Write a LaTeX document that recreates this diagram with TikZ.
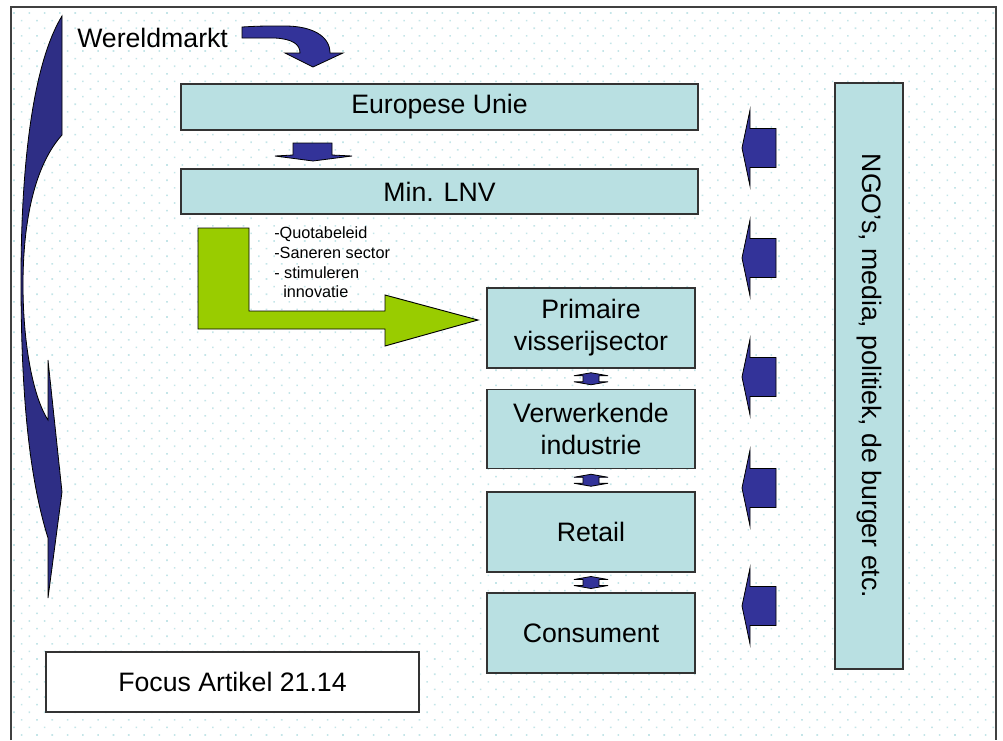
\documentclass[tikz,border=0pt]{standalone}
\usepackage{fontspec}
\setmainfont{Liberation Sans}
\usetikzlibrary{calc}
\definecolor{boxcyan}{HTML}{B9E0E2}
\definecolor{arrowblue}{HTML}{333399}
\definecolor{crescentblue}{HTML}{2E2E85}
\definecolor{limegreen}{HTML}{99CC00}
\definecolor{dotcol}{HTML}{C4E5E8}
\tikzset{
 stage/.style={draw=black!80, fill=boxcyan, line width=0.8pt, align=center,
   inner sep=0pt, font=\fontsize{20}{24}\selectfont},
 plainbox/.style={stage, fill=white},
 bluearrow/.style={fill=arrowblue, draw=black, line width=0.6pt},
 greenarrow/.style={fill=limegreen, draw=black, line width=0.7pt},
 bigtext/.style={inner sep=0pt, font=\fontsize{20}{24}\selectfont},
 smalltext/.style={inner sep=0pt, anchor=base west, font=\fontsize{12.2}{14.6}\selectfont},
}
% flat up/down arrow between two stacked boxes
\newcommand{\chainarrow}[1]{%
  \begin{scope}[shift={#1}]
    \filldraw[bluearrow] (0,-6) -- (17,-3) -- (8,-3) -- (8,3) -- (17,3) -- (0,6)
      -- (-17,3) -- (-8,3) -- (-8,-3) -- (-17,-3) -- cycle;
  \end{scope}}

\begin{document}
\begin{tikzpicture}[x=0.75pt, y=-0.75pt]
    \useasboundingbox (0,0) rectangle (1003,740);
    % dotted slide background
    \begin{scope}
        \clip (11,7) rectangle (996,740);
        \foreach \j in {0,...,97} {
            \pgfmathsetmacro{\off}{mod(\j,2)*7.65}
            \fill[dotcol] \foreach \i in {0,...,65} {(\i*15.3+13.2+\off,\j*7.6+12.2) rectangle ++(1.6,1.6)};
        }
    \end{scope}
    \draw[black!75, line width=1pt] (11,740) -- (11,7) -- (996,7) -- (996,740);

    % world market
    \node[bigtext, anchor=base west] (wereld) at (77,47) {Wereldmarkt};
    \filldraw[bluearrow] (242,27) .. controls (260,26) .. (285,26) .. controls (312,26) and (330,36) .. (330,53)
        -- (343,53) -- (313,67) -- (285,53) -- (300,53) .. controls (300,44) and (292,39) .. (275,38) -- (242,38) -- cycle;
    \filldraw[fill=crescentblue, draw=black, line width=0.6pt] (62,16) -- (62,135)
        .. controls (35,165) and (23,220) .. (23,285) .. controls (23,340) and (32,395) .. (48,420)
        -- (48,360) -- (62,492) -- (48,598) -- (48,538)
        .. controls (30,480) and (21,400) .. (21,280) .. controls (21,140) and (38,55) .. (62,16) -- cycle;

    % government
    \node[stage, minimum width=517*0.75pt, minimum height=46*0.75pt] (eu) at (439.5,107) {Europese Unie};
    \node[stage, minimum width=517*0.75pt, minimum height=45*0.75pt] (lnv) at (439.5,191.5) {Min. LNV};
    \filldraw[bluearrow] (293,143) -- (332,143) -- (332,155) -- (352,156) -- (313,161) -- (275,156) -- (293,155) -- cycle;

    % policy arrow
    \filldraw[greenarrow] (198,228) -- (249,228) -- (249,311) -- (385,311) -- (385,295) -- (478,320)
        -- (385,346) -- (385,329) -- (198,329) -- cycle;
    \node[smalltext] (q1) at (274,238) {-Quotabeleid};
    \node[smalltext] (q2) at (274,258) {-Saneren sector};
    \node[smalltext] (q3) at (274,278) {- stimuleren};
    \node[smalltext] (q4) at (283,297) {innovatie};

    % chain
    \node[stage, minimum width=208*0.75pt, minimum height=80*0.75pt] (prim) at (591,328) {Primaire\\visserijsector};
    \node[stage, minimum width=208*0.75pt, minimum height=79*0.75pt] (verw) at (591,429) {Verwerkende\\industrie};
    \node[stage, minimum width=208*0.75pt, minimum height=80*0.75pt] (retail) at (591,532) {Retail};
    \node[stage, minimum width=208*0.75pt, minimum height=80*0.75pt] (cons) at (591,633) {Consument};
    \chainarrow{($(prim.south)!.5!(verw.north)$)}
    \chainarrow{($(verw.south)!.5!(retail.north)$)}
    \chainarrow{($(retail.south)!.5!(cons.north)$)}

    % society
    \node[stage, rotate=-90, minimum width=586*0.75pt, minimum height=68*0.75pt] (ngo) at (869,376)
        {NGO’s, media, politiek, de burger etc.};
    \foreach \y in {148,258,377,488,606}
        \filldraw[bluearrow] (742,\y) -- (750,\y-38) -- (750,\y-19.5) -- (776,\y-19.5)
            -- (776,\y+19.5) -- (750,\y+19.5) -- (750,\y+38) -- cycle;

    \node[plainbox, minimum width=373*0.75pt, minimum height=60*0.75pt] (focus) at (232.5,682) {Focus Artikel 21.14};
\end{tikzpicture}
\end{document}
